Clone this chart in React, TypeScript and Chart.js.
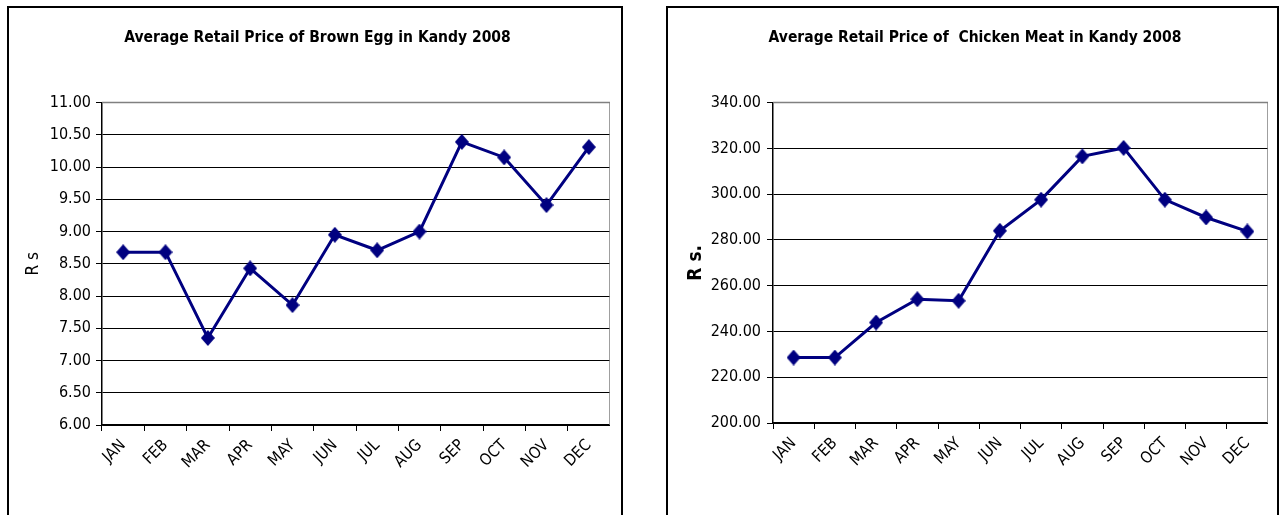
import React, { useEffect, useRef } from 'react';
import { Chart, registerables } from 'chart.js';

Chart.register(...registerables);

// ---------- data ----------
const months = ['JAN', 'FEB', 'MAR', 'APR', 'MAY', 'JUN', 'JUL', 'AUG', 'SEP', 'OCT', 'NOV', 'DEC'];

const eggTitle = 'Average Retail Price of Brown Egg in Kandy 2008';
const eggPrices = [8.68, 8.68, 7.35, 8.43, 7.86, 8.95, 8.71, 9.0, 10.39, 10.15, 9.41, 10.31];
const eggAxis = [6, 11, 0.5];

const chickenTitle = 'Average Retail Price of  Chicken Meat in Kandy 2008';
const chickenPrices = [228.6, 228.6, 243.9, 254.1, 253.4, 284.0, 297.6, 316.5, 320.2, 297.6, 289.8, 283.7];
const chickenAxis = [200, 340, 20];

// ---------- styles ----------
const FONT = "'DejaVu Sans Condensed', 'Liberation Sans', Arial, sans-serif";
const NAVY = '#000080';

function makeDiamond(): HTMLCanvasElement {
  const c = document.createElement('canvas');
  const w = 14, h = 16;
  c.width = w;
  c.height = h;
  const g = c.getContext('2d')!;
  g.fillStyle = NAVY;
  g.beginPath();
  g.moveTo(w / 2, 0);
  g.lineTo(w, h / 2);
  g.lineTo(w / 2, h);
  g.lineTo(0, h / 2);
  g.closePath();
  g.fill();
  return c;
}

const plotBorder = {
  id: 'plotBorder',
  beforeDatasetsDraw(chart: any) {
    const { ctx, chartArea } = chart;
    ctx.save();
    ctx.strokeStyle = '#808080';
    ctx.lineWidth = 1.5;
    ctx.beginPath();
    ctx.moveTo(chartArea.left, chartArea.top);
    ctx.lineTo(chartArea.right, chartArea.top);
    ctx.lineTo(chartArea.right, chartArea.bottom);
    ctx.stroke();
    ctx.restore();
  },
};

type Props = {
  title: string;
  values: number[];
  axis: number[];
  yTitle: string;
  yTitleBold: boolean;
  yTitleSize: number;
  yTitlePad: number;
  yWidth: number;
  tickPad: number;
  width: number;
  height: number;
  xHeight: number;
};

function LineBox(p: Props) {
  const ref = useRef<HTMLCanvasElement>(null);
  useEffect(() => {
    const diamond = makeDiamond();
    const chart = new Chart(ref.current!, {
      type: 'line',
      data: {
        labels: months,
        datasets: [
          {
            data: p.values,
            borderColor: NAVY,
            backgroundColor: NAVY,
            borderWidth: 3,
            tension: 0,
            pointStyle: diamond as any,
            pointRadius: 7,
          },
        ],
      },
      options: {
        responsive: false,
        animation: false,
        devicePixelRatio: 1,
        layout: { padding: 0, autoPadding: false },
        plugins: {
          legend: { display: false },
          tooltip: { enabled: false },
          title: {
            display: true,
            text: p.title,
            color: '#000',
            font: { family: FONT, size: 15.5, weight: 'bold' },
            padding: { top: 20, bottom: 55 },
          },
        },
        scales: {
          x: {
            offset: true,
            grid: {
              offset: true,
              drawOnChartArea: false,
              drawTicks: true,
              tickLength: 6,
              color: '#000',
              tickColor: '#000',
            },
            border: { color: '#000', width: 1.5 },
            ticks: {
              autoSkip: false,
              minRotation: 45,
              maxRotation: 45,
              color: '#000',
              padding: 5,
              font: { family: FONT, size: 16 },
            },
            afterFit: (s: any) => {
              s.height = p.xHeight;
              s.paddingRight = 0;
            },
          },
          y: {
            min: p.axis[0],
            max: p.axis[1],
            ticks: {
              stepSize: p.axis[2],
              color: '#000',
              padding: p.tickPad,
              font: { family: FONT, size: 16 },
              callback: (v: any) => Number(v).toFixed(2),
            },
            grid: { color: '#000', lineWidth: 1, tickLength: 6, tickColor: '#000' },
            border: { color: '#000', width: 1.5 },
            title: {
              display: true,
              text: p.yTitle,
              color: '#000',
              font: { family: FONT, size: p.yTitleSize, weight: p.yTitleBold ? 'bold' : 'normal' },
              padding: { top: p.yTitlePad, bottom: 0 },
            },
            afterFit: (s: any) => {
              s.width = p.yWidth;
            },
          },
        },
      },
      plugins: [plotBorder],
    });
    return () => chart.destroy();
  }, []);
  return <canvas ref={ref} width={p.width} height={p.height} style={{ display: 'block' }} />;
}

const boxStyle = (left: number, width: number): React.CSSProperties => ({
  position: 'absolute',
  left,
  top: 6,
  width,
  height: 509,
  boxSizing: 'border-box',
  border: '2px solid #000',
  borderBottom: 'none',
  background: '#fff',
});

export default function App() {
  return (
    <div>
      <div style={boxStyle(7, 616)} />
      <div style={boxStyle(666, 613)} />
      <div style={{ position: 'absolute', left: 25, top: 9 }}>
        <LineBox
          title={eggTitle}
          values={eggPrices}
          axis={eggAxis}
          yTitle="R s"
          yTitleBold={false}
          yTitleSize={17}
          yTitlePad={-2}
          yWidth={77}
          tickPad={5}
          width={585}
          height={506}
          xHeight={90}
        />
      </div>
      <div style={{ position: 'absolute', left: 682, top: 9 }}>
        <LineBox
          title={chickenTitle}
          values={chickenPrices}
          axis={chickenAxis}
          yTitle="R s."
          yTitleBold={true}
          yTitleSize={19}
          yTitlePad={3}
          yWidth={91}
          tickPad={6}
          width={586}
          height={506}
          xHeight={92}
        />
      </div>
    </div>
  );
}
